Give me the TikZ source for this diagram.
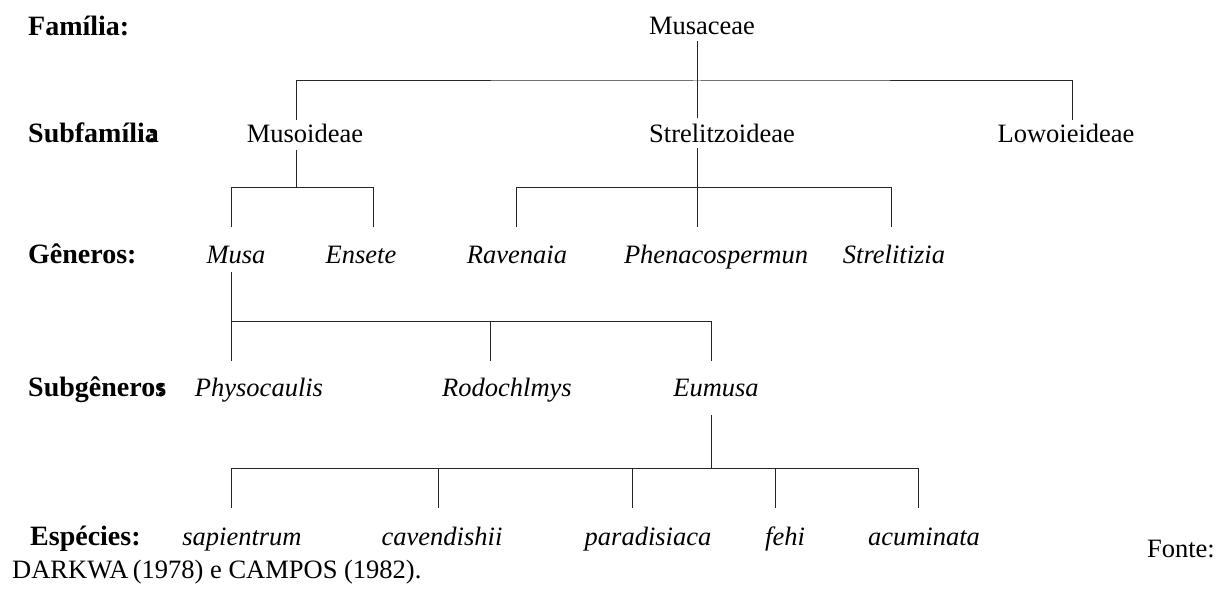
\documentclass[tikz,border=0pt]{standalone}
\usepackage{fontspec}
\setmainfont{Liberation Serif}
\begin{document}
\begin{tikzpicture}[x=1pt,y=-1pt,
  lbl/.style={anchor=base west,inner sep=0pt,font=\fontsize{28}{32}\selectfont\bfseries},
  tx/.style={anchor=base,inner sep=0pt,font=\fontsize{26.5}{30}\selectfont},
  it/.style={tx,font=\fontsize{26.5}{30}\selectfont\itshape},
  ln/.style={line width=1pt,black!85}]
\useasboundingbox (0,0) rectangle (1229,593);
% row labels
\node[lbl] (lfam) at (28,36) {Família:};
\node[lbl] (lsub) at (28,143) {Subfamíli\rlap{\kern0.1em:}a};
\node[lbl] (lgen) at (28,264) {Gêneros:};
\node[lbl] (lsg) at (28,397) {Subgênero\rlap{\kern0.05em:}s};
\node[lbl] (lesp) at (30,545) {Espécies:};
% family
\node[tx] (musaceae) at (702,35) {Musaceae};
% subfamilies
\node[tx] (musoideae) at (305,143) {Musoideae};
\node[tx] (strel) at (722,143) {Strelitzoideae};
\node[tx] (lowo) at (1066,143) {Lowoieideae};
% genera
\node[it] (musa) at (236,264) {Musa};
\node[it] (ensete) at (361,264) {Ensete};
\node[it] (raven) at (517,264) {Ravenaia};
\node[it] (phena) at (716,264) {Phenacospermun};
\node[it] (strelg) at (894,264) {Strelitizia};
% subgenera
\node[it] (physo) at (259,397) {Physocaulis};
\node[it] (rodo) at (507,397) {Rodochlmys};
\node[it] (eumusa) at (716,397) {Eumusa};
% species
\node[it] (sapi) at (242,545) {sapientrum};
\node[it] (cave) at (442,545) {cavendishii};
\node[it] (para) at (648,545) {paradisiaca};
\node[it] (fehi) at (785,545) {fehi};
\node[it] (acum) at (924,545) {acuminata};
% source
\node[tx,anchor=base east] (fonte) at (1215,557) {Fonte:};
\node[tx,anchor=base west] (darkwa) at (12,578) {DARKWA\,(1978) e CAMPOS (1982).};
% connector points
\coordinate (a0) at (697,41);
\coordinate (a1) at (697,118);
\coordinate (b1) at (296,120);
\coordinate (b3) at (1072,120);
\coordinate (c0) at (296,150);
\coordinate (c1) at (231,227);
\coordinate (c2) at (373,227);
\coordinate (d0) at (697,148);
\coordinate (d1) at (516,227);
\coordinate (d2) at (697,227);
\coordinate (d3) at (891,227);
\coordinate (e0) at (231,272);
\coordinate (e1) at (231,361);
\coordinate (e2) at (490,361);
\coordinate (e3) at (711,361);
\coordinate (f0) at (711,415);
\coordinate (g1) at (231,508);
\coordinate (g2) at (438,508);
\coordinate (g3) at (632,508);
\coordinate (g4) at (775,508);
\coordinate (g5) at (918,508);
% family -> subfamilies
\draw[ln] (a0) -- (a1);
\draw[ln] (b1) |- (697,81) -| (b3);
% Musoideae -> genera
\draw[ln] (c0) -- (296,188);
\draw[ln] (c1) |- (c2 |- 0,188) -- (c2);
% Strelitzoideae -> genera
\draw[ln] (d0) -- (d2);
\draw[ln] (d1) |- (d3 |- 0,188) -- (d3);
% Musa -> subgenera
\draw[ln] (e0) -- (e1);
\draw[ln] (231,322) -- (711,322) -- (e3);
\draw[ln] (e2) -- (490,322);
% Eumusa -> species
\draw[ln] (f0) -- (711,468);
\draw[ln] (g1) |- (g5 |- 0,468) -- (g5);
\draw[ln] (g2) -- (438,468);
\draw[ln] (g3) -- (632,468);
\draw[ln] (g4) -- (775,468);
\end{tikzpicture}
\end{document}
